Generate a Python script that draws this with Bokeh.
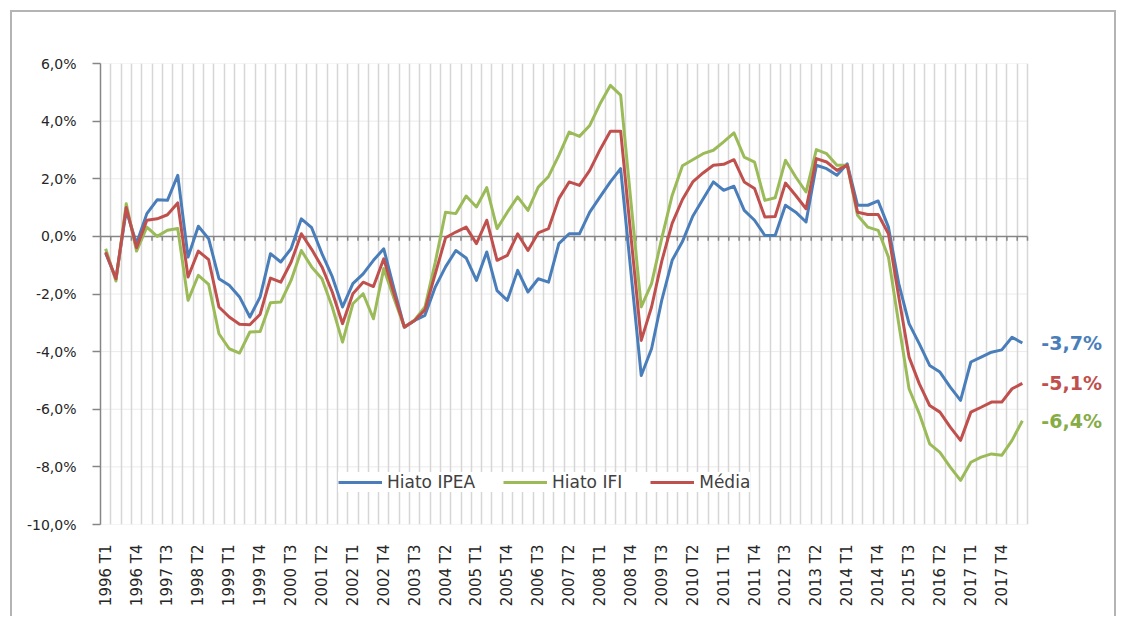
import math
from bokeh.plotting import figure
from bokeh.models import (FixedTicker, CustomJSTickFormatter, Legend, LegendItem,
                          Range1d, ColumnDataSource)
from bokeh.core.properties import value
from bokeh.embed import file_html
from bokeh.resources import INLINE

# ---------------- data ----------------
quarters = [f"{y} T{q}" for y in range(1996, 2019) for q in range(1, 5)][:90]

hiato_ipea = [
    -0.58, -1.47, 0.90, -0.25, 0.79, 1.27, 1.25, 2.12, -0.72, 0.35,
    -0.08, -1.47, -1.70, -2.10, -2.80, -2.10, -0.60, -0.89, -0.43, 0.61,
    0.30, -0.60, -1.40, -2.45, -1.64, -1.30, -0.83, -0.43, -1.82, -3.15,
    -2.92, -2.74, -1.76, -1.06, -0.49, -0.75, -1.53, -0.54, -1.88, -2.22,
    -1.18, -1.93, -1.47, -1.59, -0.25, 0.09, 0.09, 0.84, 1.37, 1.89,
    2.35, -1.25, -4.83, -3.90, -2.20, -0.83, -0.18, 0.70, 1.30, 1.89,
    1.60, 1.74, 0.90, 0.56, 0.03, 0.03, 1.08, 0.84, 0.50, 2.47,
    2.35, 2.12, 2.52, 1.08, 1.08, 1.23, 0.32, -1.64, -3.03, -3.73,
    -4.48, -4.71, -5.23, -5.69, -4.36, -4.19, -4.02, -3.94, -3.50, -3.70,
]

hiato_ifi = [
    -0.43, -1.55, 1.13, -0.51, 0.32, 0.00, 0.21, 0.27, -2.22, -1.35,
    -1.67, -3.38, -3.90, -4.05, -3.32, -3.30, -2.30, -2.28, -1.53, -0.49,
    -1.06, -1.47, -2.45, -3.67, -2.34, -1.99, -2.86, -1.12, -2.16, -3.15,
    -2.90, -2.45, -0.90, 0.84, 0.79, 1.40, 1.02, 1.69, 0.27, 0.84,
    1.37, 0.90, 1.71, 2.08, 2.81, 3.62, 3.47, 3.85, 4.60, 5.24,
    4.90, 1.20, -2.45, -1.64, -0.05, 1.42, 2.45, 2.66, 2.87, 2.99,
    3.28, 3.59, 2.75, 2.58, 1.25, 1.34, 2.64, 2.06, 1.54, 3.01,
    2.87, 2.47, 2.47, 0.73, 0.32, 0.21, -0.72, -3.03, -5.29, -6.16,
    -7.20, -7.50, -8.01, -8.47, -7.84, -7.66, -7.55, -7.60, -7.08, -6.40,
]

media = [
    -0.55, -1.47, 1.00, -0.39, 0.56, 0.61, 0.75, 1.16, -1.41, -0.51,
    -0.81, -2.45, -2.80, -3.05, -3.07, -2.70, -1.45, -1.59, -0.90, 0.09,
    -0.45, -1.06, -1.93, -3.03, -1.99, -1.59, -1.74, -0.78, -1.99, -3.15,
    -2.92, -2.55, -1.30, -0.05, 0.15, 0.32, -0.25, 0.56, -0.83, -0.66,
    0.09, -0.49, 0.12, 0.27, 1.31, 1.89, 1.77, 2.29, 3.01, 3.65,
    3.65, 0.00, -3.61, -2.45, -0.85, 0.45, 1.28, 1.89, 2.20, 2.47,
    2.50, 2.66, 1.89, 1.66, 0.67, 0.69, 1.85, 1.42, 0.96, 2.70,
    2.58, 2.29, 2.47, 0.84, 0.76, 0.76, 0.09, -2.10, -4.19, -5.12,
    -5.87, -6.10, -6.62, -7.08, -6.10, -5.93, -5.75, -5.75, -5.29, -5.10,
]

series_names = ["Hiato IPEA", "Hiato IFI", "Média"]
series_values = [hiato_ipea, hiato_ifi, media]
series_colors = ["#4A7EBB", "#9BBB59", "#C0504D"]
label_colors = ["#4A7EBB", "#86AC46", "#C0504D"]

y_ticks = [-10, -8, -6, -4, -2, 0, 2, 4, 6]
label_step = 3

# ---------------- figure ----------------
n = len(quarters)
xs = list(range(n))
cat_px = 10.3           # width of one quarter on screen
frame_w = 1010          # frame extends right to leave room for end labels
x_end = -0.5 + frame_w / cat_px

p = figure(width=1118, height=616,
           x_range=Range1d(-0.5, x_end), y_range=Range1d(y_ticks[0], y_ticks[-1]),
           output_backend="svg", toolbar_location=None,
           min_border_left=100, min_border_right=8, min_border_top=63, min_border_bottom=92)
p.outline_line_color = None
p.background_fill_color = None
p.border_fill_color = None
p.styles = {
    "box-shadow": "inset 10px 10px 0 0 #ffffff, inset -2px 0 0 0 #ffffff, "
                  "inset 12px 12px 0 0 #B4B4B4, inset -4px 0 0 0 #B4B4B4"
}

FONT = "DejaVu Sans"

# y axis
p.yaxis.ticker = FixedTicker(ticks=y_ticks)
p.yaxis.formatter = CustomJSTickFormatter(code="return tick.toFixed(1).replace('.', ',') + '%';")
p.yaxis.axis_line_color = "#868686"
p.yaxis.axis_line_width = 1.5
p.yaxis.major_tick_line_color = "#868686"
p.yaxis.major_tick_line_width = 1.5
p.yaxis.major_tick_out = 8
p.yaxis.major_tick_in = 0
p.yaxis.minor_tick_line_color = None
p.yaxis.major_label_standoff = 16
p.yaxis.major_label_text_font = FONT
p.yaxis.major_label_text_font_size = "14px"
p.yaxis.major_label_text_color = "#262626"

# x axis (labels at bottom, every 3rd quarter)
p.xaxis.ticker = FixedTicker(ticks=list(range(0, n, label_step)))
p.xaxis.formatter = CustomJSTickFormatter(args=dict(labels=quarters),
                                          code="return labels[Math.round(tick)] || '';")
p.xaxis.major_label_orientation = math.pi / 2
p.xaxis.axis_line_color = None
p.xaxis.major_tick_line_color = None
p.xaxis.minor_tick_line_color = None
p.xaxis.major_label_standoff = 14
p.xaxis.major_label_text_font = FONT
p.xaxis.major_label_text_font_size = "15px"
p.xaxis.major_label_text_color = "#262626"

# grids
boundaries = [k - 0.5 for k in range(n + 1)]
p.xgrid.ticker = FixedTicker(ticks=boundaries)
p.xgrid.grid_line_color = "#D6D6D6"
p.xgrid.grid_line_width = 1.5
p.ygrid.visible = False
x_lo, x_hi = boundaries[0], boundaries[-1]
p.segment(x0=[x_lo] * len(y_ticks), y0=y_ticks, x1=[x_hi] * len(y_ticks), y1=y_ticks,
          line_color="#EBEBEB", line_width=1, level="underlay")

# zero axis line with small ticks
p.segment(x0=[x_lo], y0=[0], x1=[x_hi], y1=[0], line_color="#868686", line_width=1.5)
p.segment(x0=boundaries, y0=[0] * len(boundaries), x1=boundaries, y1=[-0.15] * len(boundaries),
          line_color="#868686", line_width=1.5)

# series
renderers = []
for name, vals, col in zip(series_names, series_values, series_colors):
    r = p.line(xs, vals, line_color=col, line_width=3, line_join="round")
    renderers.append(r)

legend = Legend(items=[LegendItem(label=nm, renderers=[r]) for nm, r in zip(series_names, renderers)],
                orientation="horizontal", location=(238, 32))
legend.background_fill_color = "white"
legend.background_fill_alpha = 1
legend.border_line_color = None
legend.label_text_font = FONT
legend.label_text_font_size = "17px"
legend.label_text_color = "#404040"
legend.glyph_width = 44
legend.glyph_height = 20
legend.label_standoff = 5
legend.spacing = 28
legend.padding = 18
legend.margin = 0
p.add_layout(legend)

# end labels
end_src = ColumnDataSource(dict(
    x=[xs[-1]] * len(series_values),
    y=[v[-1] for v in series_values],
    txt=[f"{v[-1]:.1f}".replace(".", ",") + "%" for v in series_values],
    col=label_colors,
))
p.text(x="x", y="y", text="txt", source=end_src, x_offset=19,
       text_baseline="middle", text_align="left",
       text_font=value(FONT), text_font_style="bold",
       text_font_size="19px", text_color="col")

open("out.html", "w").write(file_html(p, INLINE))
